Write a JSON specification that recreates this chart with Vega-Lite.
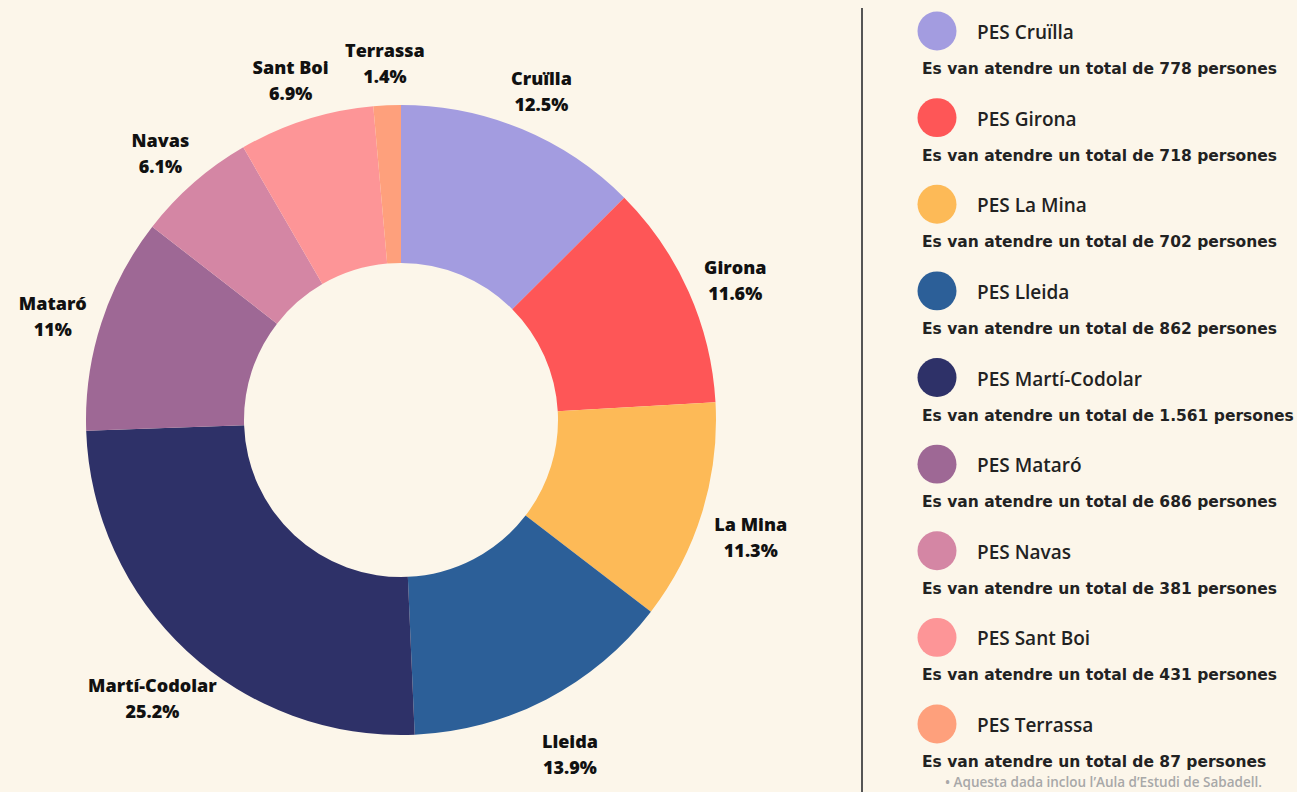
{
  "$schema": "https://vega.github.io/schema/vega-lite/v6.json",
  "width": 1297,
  "height": 792,
  "autosize": {"type": "fit", "contains": "padding"},
  "padding": 0,
  "background": "#fcf6ea",
  "config": {"view": {"stroke": null}},
  "data": {
    "values": [
      {"name": "Cruïlla", "order": 1, "value": 778, "lbl": "Cruïlla\n12.5%", "title": "PES Cruïlla", "desc": "Es van atendre un total de 778 persones"},
      {"name": "Girona", "order": 2, "value": 718, "lbl": "Girona\n11.6%", "title": "PES Girona", "desc": "Es van atendre un total de 718 persones"},
      {"name": "La Mina", "order": 3, "value": 702, "lbl": "La Mina\n11.3%", "title": "PES La Mina", "desc": "Es van atendre un total de 702 persones"},
      {"name": "Lleida", "order": 4, "value": 862, "lbl": "Lleida\n13.9%", "title": "PES Lleida", "desc": "Es van atendre un total de 862 persones"},
      {"name": "Martí-Codolar", "order": 5, "value": 1561, "lbl": "Martí-Codolar\n25.2%", "title": "PES Martí-Codolar", "desc": "Es van atendre un total de 1.561 persones"},
      {"name": "Mataró", "order": 6, "value": 686, "lbl": "Mataró\n11%", "title": "PES Mataró", "desc": "Es van atendre un total de 686 persones"},
      {"name": "Navas", "order": 7, "value": 381, "lbl": "Navas\n6.1%", "title": "PES Navas", "desc": "Es van atendre un total de 381 persones"},
      {"name": "Sant Boi", "order": 8, "value": 431, "lbl": "Sant Boi\n6.9%", "title": "PES Sant Boi", "desc": "Es van atendre un total de 431 persones"},
      {"name": "Terrassa", "order": 9, "value": 87, "lbl": "Terrassa\n1.4%", "title": "PES Terrassa", "desc": "Es van atendre un total de 87 persones"}
    ]
  },
  "layer": [
    {
      "mark": {"type": "arc", "innerRadius": 157, "outerRadius": 315, "x": 401, "y": 420},
      "encoding": {
        "theta": {"field": "value", "type": "quantitative", "stack": true},
        "order": {"field": "order", "type": "quantitative"},
        "color": {
          "field": "name", "type": "nominal", "legend": null,
          "scale": {
            "domain": ["Cruïlla", "Girona", "La Mina", "Lleida", "Martí-Codolar", "Mataró", "Navas", "Sant Boi", "Terrassa"],
            "range": ["#a39ce0", "#fe5657", "#fdba57", "#2c5f98", "#2e3168", "#9e6895", "#d486a4", "#fd9597", "#fea07c"]
          }
        }
      }
    },
    {
      "mark": {"type": "text", "radius": 366, "x": 401, "y": 418, "font": "Open Sans", "fontWeight": 800, "fontSize": 18, "lineHeight": 26, "lineBreak": "\n", "color": "#111111"},
      "encoding": {
        "theta": {"field": "value", "type": "quantitative", "stack": true},
        "order": {"field": "order", "type": "quantitative"},
        "text": {"field": "lbl", "type": "nominal"}
      }
    },
    {
      "mark": {"type": "point", "filled": true, "shape": "circle", "size": 1520, "opacity": 1},
      "encoding": {
        "x": {"value": 937},
        "y": {"field": "name", "type": "nominal", "axis": null, "sort": null,
              "scale": {"type": "point", "domain": ["Cruïlla", "Girona", "La Mina", "Lleida", "Martí-Codolar", "Mataró", "Navas", "Sant Boi", "Terrassa"], "range": [31, 724], "padding": 0}},
        "color": {"field": "name", "type": "nominal", "legend": null}
      }
    },
    {
      "mark": {"type": "text", "align": "left", "dy": 2, "font": "Open Sans", "fontSize": 19, "fontWeight": 600, "color": "#222222"},
      "encoding": {
        "x": {"value": 977},
        "y": {"field": "name", "type": "nominal", "axis": null, "sort": null},
        "text": {"field": "title", "type": "nominal"}
      }
    },
    {
      "mark": {"type": "text", "align": "left", "dy": 38, "font": "DejaVu Sans", "fontSize": 15.5, "fontWeight": "bold", "color": "#222222"},
      "encoding": {
        "x": {"value": 922},
        "y": {"field": "name", "type": "nominal", "axis": null, "sort": null},
        "text": {"field": "desc", "type": "nominal"}
      }
    },
    {
      "data": {"values": [{"a": 1}]},
      "mark": {"type": "rule", "color": "#555555", "strokeWidth": 2},
      "encoding": {"x": {"value": 862}, "y": {"value": 8}, "y2": {"value": 792}}
    },
    {
      "data": {"values": [{"t": "•  Aquesta dada inclou l’Aula d’Estudi de Sabadell."}]},
      "mark": {"type": "text", "align": "left", "font": "Open Sans", "fontSize": 13.5, "fontWeight": 600, "color": "#a8a8a8"},
      "encoding": {"x": {"value": 945}, "y": {"value": 783}, "text": {"field": "t", "type": "nominal"}}
    }
  ]
}
